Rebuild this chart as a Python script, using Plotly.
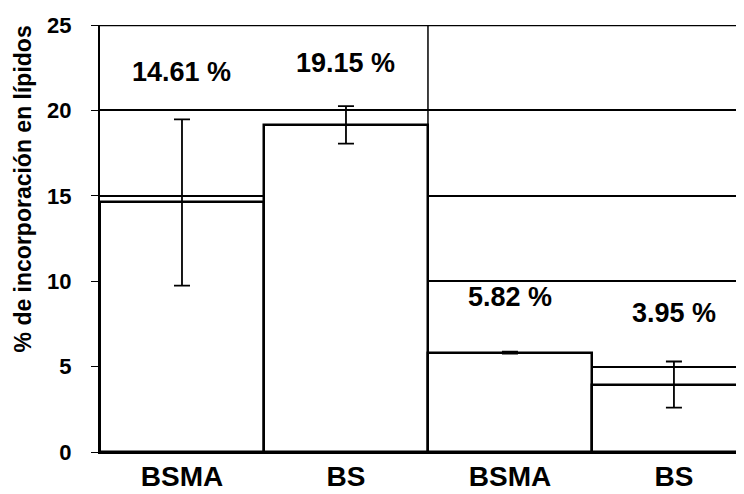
import plotly.graph_objects as go

categories = ["BSMA", "BS", "BSMA ", "BS "]
tick_labels = ["BSMA", "BS", "BSMA", "BS"]
values = [14.61, 19.15, 5.82, 3.95]
errors = [4.87, 1.1, 0.06, 1.35]
value_labels = ["14.61 %", "19.15 %", "5.82 %", "3.95 %"]
label_y = [22.25, 22.8, 9.07, 8.13]
y_ticks = [0, 5, 10, 15, 20, 25]

FONT = "Liberation Sans, Arial, sans-serif"

fig = go.Figure()
fig.add_trace(go.Bar(
    x=categories, y=values,
    marker=dict(color="white", line=dict(color="black", width=2.5)),
    error_y=dict(type="data", array=errors, visible=True, color="black",
                 thickness=1.8, width=8),
    width=1.0,
))

for i, (t, yy) in enumerate(zip(value_labels, label_y)):
    fig.add_annotation(x=categories[i], y=yy, text="<b>%s</b>" % t, showarrow=False,
                       font=dict(family=FONT, size=27, color="black"),
                       xref="x", yref="y")

# vertical divider between groups
fig.add_shape(type="line", xref="x", yref="y", x0=1.5, x1=1.5, y0=0, y1=25,
              line=dict(color="black", width=1.5), layer="below")

fig.add_annotation(xref="paper", yref="paper", x=-0.118, y=0.615,
                   xanchor="center", yanchor="middle",
                   text="<b>% de incorporación en lípidos</b>", textangle=-90,
                   showarrow=False, font=dict(family=FONT, size=23, color="black"))

fig.update_layout(
    width=744, height=494,
    margin=dict(l=92, r=0, t=17, b=50, autoexpand=False),
    paper_bgcolor="white", plot_bgcolor="white",
    bargap=0, showlegend=False,
    font=dict(family=FONT, color="black"),
)
fig.update_xaxes(range=[-0.5, 3.476], tickvals=categories, ticktext=["<b>%s</b>" % t for t in tick_labels],
                 tickfont=dict(family=FONT, size=28, color="black"),
                 showgrid=False, showline=True, linecolor="black", linewidth=2,
                 ticks="", ticklabelstandoff=-2, zeroline=False, automargin=False)
fig.update_yaxes(range=[0, 25], tickvals=y_ticks, ticktext=["<b>%d</b>" % v for v in y_ticks],
                 tickfont=dict(family=FONT, size=22, color="black"),
                 showgrid=True, gridcolor="black", gridwidth=1.5,
                 showline=True, linecolor="black", linewidth=2,
                 ticks="outside", ticklen=7, tickcolor="black", tickwidth=1,
                 ticklabelstandoff=15,
                 zeroline=False, automargin=False)
fig.add_shape(type="line", xref="paper", yref="y", x0=0, x1=1, y0=25, y1=25,
              line=dict(color="black", width=2.5))

fig.write_html("out.html")
